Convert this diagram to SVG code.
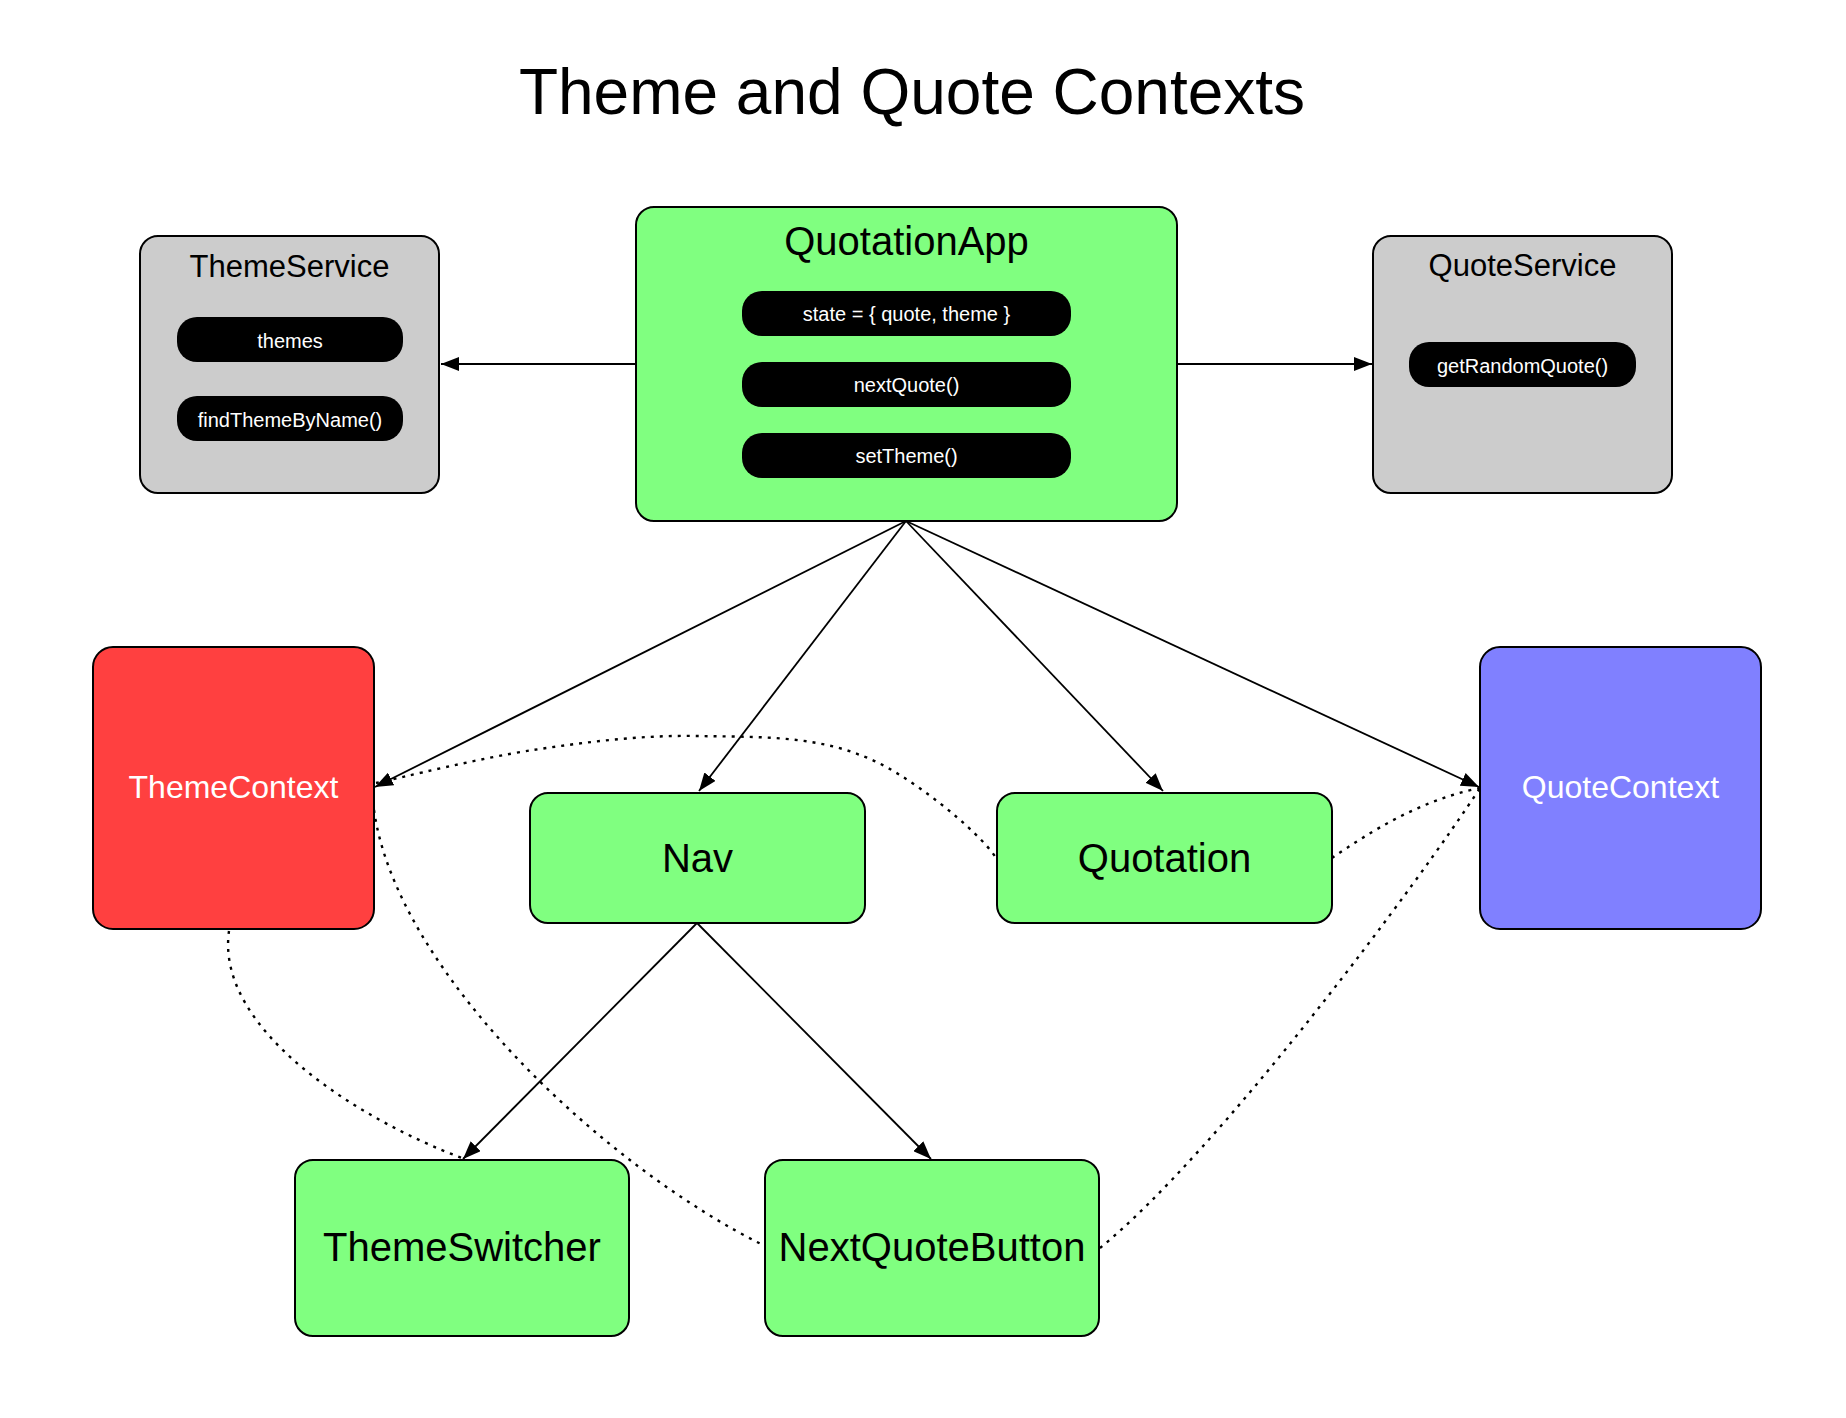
<svg xmlns="http://www.w3.org/2000/svg" width="1846" height="1418" viewBox="0 0 1846 1418">
<style>
text{font-family:"Liberation Sans",Arial,Helvetica,sans-serif;text-anchor:middle}
.box{stroke:#000;stroke-width:2}
.green{fill:#80ff80}
.gray{fill:#cccccc}
.red{fill:#ff4040}
.blue{fill:#8080ff}
.pill{fill:#000}
.ptxt{fill:#fff;font-size:20px}
.svc{fill:#000;font-size:31px}
.big{fill:#000;font-size:40px}
.ctx{fill:#fff;font-size:32px}
.arrow{fill:none;stroke:#000;stroke-width:1.8;marker-end:url(#ah)}
.dep{fill:none;stroke:#000;stroke-width:2.4;stroke-dasharray:3 6}
</style>
<defs>
<marker id="ah" markerUnits="userSpaceOnUse" markerWidth="19" markerHeight="14" refX="18" refY="7" orient="auto">
<path d="M0,0 L18,7 L0,14 z" fill="#000"/>
</marker>
</defs>
<rect width="1846" height="1418" fill="#fff"/>
<text x="912" y="114" style="font-size:64px;fill:#000">Theme and Quote Contexts</text>

<g id="connectors">
<path class="arrow" d="M636,364 L441,364"/>
<path class="arrow" d="M1177,364 L1372,364"/>
<path class="arrow" d="M906,521 L375,787"/>
<path class="arrow" d="M906,521 L699,791"/>
<path class="arrow" d="M906,521 L1163,791"/>
<path class="arrow" d="M906,521 L1479,787"/>
<path class="arrow" d="M697,923 L463,1159"/>
<path class="arrow" d="M697,923 L931,1159"/>
<path class="dep" d="M376,783 C402,777.5 480,758 533,750 C586,742 641,735 696,736 C750,737 810,735 860,755 C905,770 981,833 996,858"/>
<path class="dep" d="M229,931 C215,1030 360,1120 462,1158"/>
<path class="dep" d="M374,810 C397,975 610,1170 765,1246"/>
<path class="dep" d="M1332,858 C1370,832 1420,800 1480,788"/>
<path class="dep" d="M1100,1248 C1220,1150 1420,880 1480,788"/>
</g>

<g id="ThemeService">
<rect class="box gray" x="140" y="236" width="299" height="257" rx="18"/>
<text class="svc" x="289.5" y="277">ThemeService</text>
<rect class="pill" x="177" y="317" width="226" height="45" rx="20"/>
<text class="ptxt" x="290" y="347.5">themes</text>
<rect class="pill" x="177" y="396" width="226" height="45" rx="20"/>
<text class="ptxt" x="290" y="426.5">findThemeByName()</text>
</g>

<g id="QuotationApp">
<rect class="box green" x="636" y="207" width="541" height="314" rx="18"/>
<text class="big" x="906.5" y="255">QuotationApp</text>
<rect class="pill" x="742" y="291" width="329" height="45" rx="20"/>
<text class="ptxt" x="906.5" y="321">state = { quote, theme }</text>
<rect class="pill" x="742" y="362" width="329" height="45" rx="20"/>
<text class="ptxt" x="906.5" y="392">nextQuote()</text>
<rect class="pill" x="742" y="433" width="329" height="45" rx="20"/>
<text class="ptxt" x="906.5" y="463">setTheme()</text>
</g>

<g id="QuoteService">
<rect class="box gray" x="1373" y="236" width="299" height="257" rx="18"/>
<text class="svc" x="1522.5" y="276">QuoteService</text>
<rect class="pill" x="1409" y="342" width="227" height="45" rx="20"/>
<text class="ptxt" x="1522.5" y="372.5">getRandomQuote()</text>
</g>

<g id="ThemeContext">
<rect class="box red" x="93" y="647" width="281" height="282" rx="20"/>
<text class="ctx" x="233.5" y="798">ThemeContext</text>
</g>

<g id="QuoteContext">
<rect class="box blue" x="1480" y="647" width="281" height="282" rx="20"/>
<text class="ctx" x="1620.5" y="798">QuoteContext</text>
</g>

<g id="Nav">
<rect class="box green" x="530" y="793" width="335" height="130" rx="18"/>
<text class="big" x="697.5" y="872">Nav</text>
</g>

<g id="Quotation">
<rect class="box green" x="997" y="793" width="335" height="130" rx="18"/>
<text class="big" x="1164.5" y="872">Quotation</text>
</g>

<g id="ThemeSwitcher">
<rect class="box green" x="295" y="1160" width="334" height="176" rx="18"/>
<text class="big" x="462" y="1261">ThemeSwitcher</text>
</g>

<g id="NextQuoteButton">
<rect class="box green" x="765" y="1160" width="334" height="176" rx="18"/>
<text class="big" x="932" y="1261">NextQuoteButton</text>
</g>
</svg>
